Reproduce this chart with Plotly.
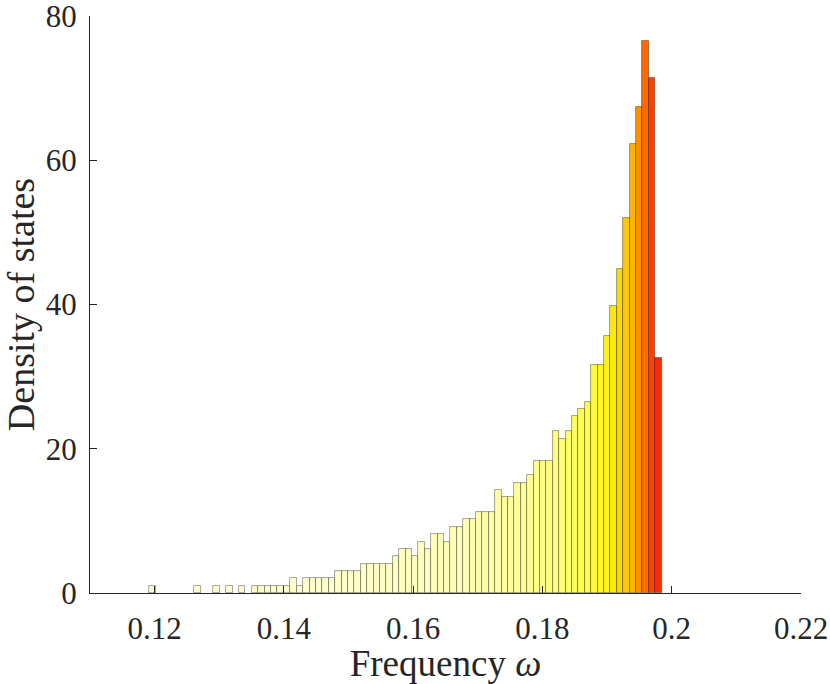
import numpy as np
import plotly.graph_objects as go

# ---- data ----
bin_start = 0.1192          # left edge of first bin
bin_end = 0.19843           # right edge of last bin
density = [1.02, 0, 0, 0, 0, 0, 0, 1.02, 0, 0, 1.02, 0, 1.02, 0, 1.02, 0,
           1.02, 1.02, 1.02, 1.02, 1.02, 1.02,
           2.04, 1.02, 2.04, 2.04, 2.04, 2.04, 2.04,
           3.06, 3.06, 3.06, 3.06,
           4.08, 4.08, 4.08, 4.08, 4.08,
           5.10, 6.12, 6.12, 5.10, 7.14, 6.12, 8.16, 8.16, 7.14, 9.18, 9.18,
           10.2, 10.2, 11.22, 11.22, 11.22, 14.28, 13.26, 13.26, 15.3, 15.3,
           16.32, 18.36, 18.36, 18.36, 22.44, 21.42, 22.44, 24.48, 25.5, 26.52,
           31.62, 31.62, 35.7, 39.78, 44.88, 52.02, 62.22, 67.32, 76.5, 71.4, 32.64]
x_ticks = [0.12, 0.14, 0.16, 0.18, 0.2, 0.22]
x_tick_labels = ["0.12", "0.14", "0.16", "0.18", "0.2", "0.22"]
y_ticks = [0, 20, 40, 60, 80]

# ---- histogram geometry ----
n_bins = len(density)
edges = np.linspace(bin_start, bin_end, n_bins + 1)
centers = 0.5 * (edges[:-1] + edges[1:])
width = edges[1] - edges[0]
dens = np.array(density, dtype=float)
cum = np.cumsum(dens)
share = (cum - dens / 2) / cum[-1]

mask = dens > 0

colorscale = [
    [0.0, 'rgb(255,255,210)'],
    [0.07, 'rgb(255,255,192)'],
    [0.2, 'rgb(255,255,162)'],
    [0.34, 'rgb(255,255,122)'],
    [0.45, 'rgb(255,255,72)'],
    [0.5, 'rgb(255,248,42)'],
    [0.545, 'rgb(255,240,30)'],
    [0.58, 'rgb(255,232,15)'],
    [0.623, 'rgb(255,218,0)'],
    [0.67, 'rgb(255,200,0)'],
    [0.727, 'rgb(255,180,0)'],
    [0.79, 'rgb(255,145,0)'],
    [0.86, 'rgb(255,105,0)'],
    [0.933, 'rgb(255,65,0)'],
    [1.0, 'rgb(255,30,0)'],
]

fig = go.Figure(go.Bar(
    x=centers[mask],
    y=dens[mask],
    width=width,
    marker=dict(color=share[mask], colorscale=colorscale, cmin=0, cmax=1,
                line=dict(color='rgba(0,0,0,0.45)', width=0.8)),
    showlegend=False,
    hoverinfo='x+y',
))

font_family = "Liberation Serif, Times New Roman, serif"
axis_color = '#262626'

fig.update_layout(
    width=830, height=684,
    margin=dict(l=90, r=29, t=16, b=91, autoexpand=False),
    paper_bgcolor='white', plot_bgcolor='white',
    bargap=0,
    font=dict(family=font_family, color=axis_color, size=31),
    xaxis=dict(
        range=[0.11, 0.22],
        tickvals=x_ticks, ticktext=x_tick_labels,
        ticks='inside', ticklen=7, tickwidth=1.2, tickcolor=axis_color,
        showline=True, linecolor=axis_color, linewidth=1.3,
        showgrid=False, zeroline=False,
        tickfont=dict(size=31),
        ticklabelstandoff=8,
        ticklabeloverflow='allow',
        automargin=False,
        title=dict(text="Frequency <i>ω</i>", font=dict(size=37), standoff=0),
    ),
    yaxis=dict(
        range=[0, 80],
        tickvals=y_ticks,
        ticks='inside', ticklen=7, tickwidth=1.2, tickcolor=axis_color,
        showline=True, linecolor=axis_color, linewidth=1.3,
        showgrid=False, zeroline=False,
        tickfont=dict(size=31),
        ticklabelstandoff=6,
        ticklabeloverflow='allow',
        automargin=False,
        title=dict(text="Density of states", font=dict(size=38), standoff=0),
    ),
)

fig.write_html("out.html",
               config={"displayModeBar": False},
               post_script="document.body.style.margin='0';document.body.style.overflow='hidden';")
